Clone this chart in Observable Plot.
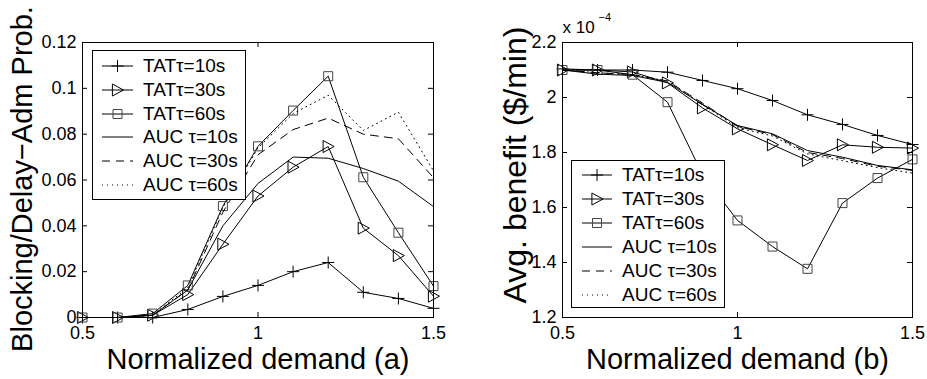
<!DOCTYPE html>
<html><head><meta charset="utf-8">
<script src="https://cdn.jsdelivr.net/npm/d3@7"></script>
<script src="https://cdn.jsdelivr.net/npm/@observablehq/plot@0.6"></script>
<style>
body{margin:0;background:#fff;}
#wrap{position:relative;width:927px;height:379px;overflow:hidden;background:#fff;font-family:"Liberation Sans",Arial,sans-serif;}
.panel{position:absolute;top:0;}
.legend{position:absolute;background:#fff;border:1px solid #000;box-sizing:border-box;}
.row{position:absolute;left:0;display:flex;align-items:center;white-space:nowrap;font-size:19px;color:#000;}
.row svg{display:block;}
</style>
</head><body>
<div id="wrap"></div>
<script>
// ---------- data ----------
const demand = [0.5, 0.6, 0.7, 0.8, 0.9, 1.0, 1.1, 1.2, 1.3, 1.4, 1.5];
const seriesNames = ["TAT\u03c4=10s", "TAT\u03c4=30s", "TAT\u03c4=60s", "AUC \u03c4=10s", "AUC \u03c4=30s", "AUC \u03c4=60s"];

// (a) Blocking / Delay-Adm probability
const blockTAT10 = [0, 0, 0, 0.0035, 0.0092, 0.014, 0.020, 0.024, 0.011, 0.0083, 0.004];
const blockTAT30 = [0, 0, 0.001, 0.010, 0.032, 0.053, 0.0656, 0.0746, 0.039, 0.027, 0.0093];
const blockTAT60 = [0, 0, 0.0017, 0.014, 0.0486, 0.0747, 0.0903, 0.1053, 0.0612, 0.037, 0.0137];
const blockAUC10 = [0, 0, 0.001, 0.012, 0.040, 0.0585, 0.070, 0.0695, 0.065, 0.0595, 0.0484];
const blockAUC30 = [0, 0, 0.001, 0.012, 0.046, 0.071, 0.082, 0.087, 0.080, 0.078, 0.061];
const blockAUC60 = [0, 0, 0.001, 0.013, 0.048, 0.074, 0.089, 0.097, 0.0816, 0.0896, 0.064];

// (b) Avg. benefit ($/min), in units of 1e-4
const benefitExp = -4;
const benefitTAT10 = [2.104, 2.100, 2.100, 2.092, 2.062, 2.032, 1.989, 1.937, 1.902, 1.862, 1.829];
const benefitTAT30 = [2.100, 2.100, 2.093, 2.053, 1.962, 1.886, 1.828, 1.771, 1.828, 1.819, 1.816];
const benefitTAT60 = [2.100, 2.100, 2.083, 1.983, 1.720, 1.553, 1.458, 1.377, 1.616, 1.707, 1.775];
const benefitAUC10 = [2.100, 2.085, 2.080, 2.055, 1.975, 1.898, 1.868, 1.807, 1.783, 1.753, 1.737];
const benefitAUC30 = [2.100, 2.090, 2.083, 2.060, 1.980, 1.895, 1.865, 1.800, 1.778, 1.750, 1.735];
const benefitAUC60 = [2.100, 2.090, 2.083, 2.060, 1.975, 1.890, 1.860, 1.795, 1.770, 1.745, 1.725];

// ticks
const xTicks = [0.5, 1, 1.5];
const blockTicks = [0, 0.02, 0.04, 0.06, 0.08, 0.1, 0.12];
const benefitTicks = [1.2, 1.4, 1.6, 1.8, 2.0, 2.2];

// ---------- styles ----------
const plusSym = {draw(c, s){const r = Math.sqrt(s/Math.PI); c.moveTo(-r,0); c.lineTo(r,0); c.moveTo(0,-r); c.lineTo(0,r);}};
const triSym = {draw(c, s){const r = Math.sqrt(s/Math.PI); c.moveTo(-r*0.85,-r); c.lineTo(r,0); c.lineTo(-r*0.85,r); c.closePath();}};
const sqSym = {draw(c, s){const r = Math.sqrt(s/Math.PI)*0.75; c.moveTo(-r,-r); c.lineTo(r,-r); c.lineTo(r,r); c.lineTo(-r,r); c.closePath();}};
const styles = [
  {symbol: plusSym, dash: null, mstroke: "#000"},
  {symbol: triSym, dash: null, mstroke: "#000"},
  {symbol: sqSym, dash: null, mstroke: "#444"},
  {symbol: null, dash: null},
  {symbol: null, dash: "8,6"},
  {symbol: null, dash: "1,4"}
];

const fmt = d => String(+d.toFixed(2));

function panel({left, width, mLeft, mRight, yDomain, yTicks, sets, ylabel, xlabel, ylabelDx, ylabelDy, ylabelSize, extra}) {
  const mTop = 42, mBottom = 62, height = 379;
  const innerW = width - mLeft - mRight, innerH = height - mTop - mBottom;
  const marks = [];
  sets.forEach((vals, k) => {
    const rows = demand.map((x, i) => ({x, y: vals[i]}));
    const st = styles[k];
    marks.push(Plot.line(rows, {x: "x", y: "y", stroke: "#000", strokeWidth: 1, strokeDasharray: st.dash || undefined}));
    if (st.symbol) marks.push(Plot.dot(rows, {x: "x", y: "y", symbol: st.symbol, r: 6, stroke: st.mstroke, strokeWidth: 1, fill: "none"}));
  });
  const p = Plot.plot({
    width, height, marginLeft: mLeft, marginRight: mRight, marginTop: mTop, marginBottom: mBottom,
    style: {fontFamily: "Liberation Sans, Arial, sans-serif", fontSize: "18px", color: "#000", background: "transparent", overflow: "visible"},
    x: {domain: [0.5, 1.5]},
    y: {domain: yDomain},
    marks: [
      ...marks,
      Plot.frame({stroke: "#000", strokeWidth: 1}),
      Plot.tickX(xTicks, {x: d => d, insetTop: innerH - 5, stroke: "#000"}),
      Plot.tickX(xTicks, {x: d => d, insetBottom: innerH - 5, stroke: "#000"}),
      Plot.tickY(yTicks, {y: d => d, insetRight: innerW - 5, stroke: "#000"}),
      Plot.tickY(yTicks, {y: d => d, insetLeft: innerW - 5, stroke: "#000"}),
      Plot.axisX({ticks: xTicks, tickSize: 0, tickPadding: 9, tickFormat: fmt, label: null}),
      Plot.axisY({ticks: yTicks, tickSize: 0, tickPadding: 6, tickFormat: fmt, label: null}),
      Plot.text([xlabel], {text: d => d, frameAnchor: "bottom", textAnchor: "middle", dy: 51, lineAnchor: "bottom", fontSize: 29}),
      Plot.text([ylabel], {text: d => d, frameAnchor: "left", textAnchor: "middle", dx: ylabelDx, dy: ylabelDy, rotate: -90, lineAnchor: "bottom", fontSize: ylabelSize}),
      ...(extra || [])
    ]
  });
  p.classList.add("panel");
  p.style.left = left + "px";
  document.getElementById("wrap").appendChild(p);
}

panel({left: 0, width: 460, mLeft: 82, mRight: 27, yDomain: [0, 0.12], yTicks: blockTicks,
  sets: [blockTAT10, blockTAT30, blockTAT60, blockAUC10, blockAUC30, blockAUC60],
  ylabel: "Blocking/Delay\u2212Adm Prob.", xlabel: "Normalized demand (a)", ylabelDx: -51, ylabelDy: -1, ylabelSize: 29});

panel({left: 460, width: 467, mLeft: 102, mRight: 15, yDomain: [1.2, 2.2], yTicks: benefitTicks,
  sets: [benefitTAT10, benefitTAT30, benefitTAT60, benefitAUC10, benefitAUC30, benefitAUC60],
  ylabel: "Avg. benefit ($/min)", xlabel: "Normalized demand (b)", ylabelDx: -37, ylabelDy: -15, ylabelSize: 32,
  extra: [
    Plot.text(["x 10"], {text: d => d, frameAnchor: "top-left", dx: 0, dy: -10, lineAnchor: "bottom", textAnchor: "start", fontSize: 17}),
    Plot.text([String(benefitExp)], {text: d => d.replace("-", "\u2212"), frameAnchor: "top-left", dx: 36, dy: -22, lineAnchor: "bottom", textAnchor: "start", fontSize: 11})
  ]});

// ---------- legends ----------
function legend(left, top, w, h, firstCenter, rowH, swL, swW, textL) {
  const box = document.createElement("div");
  box.className = "legend";
  Object.assign(box.style, {left: left + "px", top: top + "px", width: w + "px", height: h + "px"});
  seriesNames.forEach((name, k) => {
    const st = styles[k];
    const row = document.createElement("div");
    row.className = "row";
    Object.assign(row.style, {top: (firstCenter + k * rowH - rowH / 2 - 1) + "px", height: rowH + "px", left: (swL - 1) + "px"});
    const ns = "http://www.w3.org/2000/svg";
    const svg = document.createElementNS(ns, "svg");
    svg.setAttribute("width", swW); svg.setAttribute("height", 14);
    const ln = document.createElementNS(ns, "line");
    ln.setAttribute("x1", 0); ln.setAttribute("x2", swW); ln.setAttribute("y1", 7); ln.setAttribute("y2", 7);
    ln.setAttribute("stroke", "#000"); ln.setAttribute("stroke-width", 1);
    if (st.dash) ln.setAttribute("stroke-dasharray", st.dash);
    svg.appendChild(ln);
    if (st.symbol) {
      const path = document.createElementNS(ns, "path");
      path.setAttribute("d", d3.symbol(st.symbol, 36 * Math.PI)());
      path.setAttribute("transform", `translate(${swW / 2},7)`);
      path.setAttribute("fill", "none"); path.setAttribute("stroke", st.mstroke);
      svg.appendChild(path);
    }
    row.appendChild(svg);
    const t = document.createElement("span");
    t.textContent = name;
    t.style.marginLeft = (textL - swL - swW) + "px";
    row.appendChild(t);
    box.appendChild(row);
  });
  document.getElementById("wrap").appendChild(box);
}
legend(92, 50, 154, 150, 16, 23.8, 10, 31, 51);
legend(571, 160, 154, 148, 15, 24, 11, 30, 51);
</script>
</body></html>
